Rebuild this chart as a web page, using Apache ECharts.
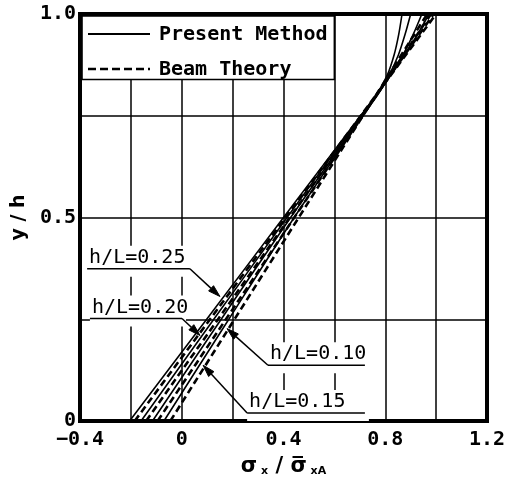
<!DOCTYPE html>
<html>
<head>
<meta charset="utf-8">
<script src="https://cdn.jsdelivr.net/npm/echarts@6/dist/echarts.min.js"></script>
<style>
  html, body { margin: 0; padding: 0; background: #fff; }
  #chart { width: 511px; height: 482px; }
</style>
</head>
<body>
<div id="chart"></div>
<script>
// ---- data ---------------------------------------------------------------
// y/h levels at which the present-method stress profiles are sampled
const yPresent = [0, 0.25, 0.5, 0.75, 0.8, 0.85, 0.9, 0.95, 1.0];
// sigma_x / mean sigma_xA, present method, one list per depth ratio
const present025 = [-0.205, 0.098, 0.400, 0.703, 0.764, 0.808, 0.835, 0.853, 0.866];
const present020 = [-0.160, 0.126, 0.414, 0.705, 0.765, 0.815, 0.852, 0.878, 0.900];
const present015 = [-0.115, 0.155, 0.428, 0.709, 0.767, 0.820, 0.870, 0.910, 0.944];
const present010 = [-0.070, 0.185, 0.442, 0.712, 0.769, 0.820, 0.875, 0.927, 0.972];
// beam theory: linear profiles, values at y/h = 0 and y/h = 1
const yBeam = [0, 1];
const beam025 = [-0.185, 1.000];
const beam020 = [-0.140, 0.990];
const beam015 = [-0.095, 0.980];
const beam010 = [-0.045, 0.965];
// tick labels
const xTickValues = [-0.4, 0, 0.4, 0.8, 1.2];
const xTickLabels = ['\u22120.4', '0', '0.4', '0.8', '1.2'];
const yTickValues = [0, 0.5, 1.0];
const yTickLabels = ['0', '0.5', '1.0'];
// legend and callout texts
const legendNames = ['Present Method', 'Beam Theory'];
const ratioNames = ['h/L=0.25', 'h/L=0.20', 'h/L=0.10', 'h/L=0.15'];

// ---- layout ---------------------------------------------------------------
// callouts in axis units: underline start, underline end, arrow tip, side the leader leaves from
const callouts = [
  { text: ratioNames[0], from: [-0.372, 0.374], to: [0.032, 0.374], tip: [0.150, 0.306], leaderAt: 'end' },
  { text: ratioNames[1], from: [-0.361, 0.252], to: [0.001, 0.252], tip: [0.072, 0.210], leaderAt: 'end' },
  { text: ratioNames[2], from: [0.339, 0.137], to: [0.720, 0.137], tip: [0.178, 0.227], leaderAt: 'start' },
  { text: ratioNames[3], from: [0.257, 0.0196], to: [0.720, 0.0196], tip: [0.084, 0.137], leaderAt: 'start' }
];
// legend frame corners in axis units
const legendCorner = [[-0.4, 1.0], [0.6, 0.839]];

const MONO = '"DejaVu Sans Mono", "Liberation Mono", monospace';
const SANS = '"DejaVu Sans", "Liberation Sans", sans-serif';
const INK = '#000';

const solidLine = { color: INK, width: 1.6, type: 'solid' };
const dashLine = { color: INK, width: 2.6, type: [7, 4] };

function profile(name, xs, ys, lineStyle, smooth) {
  return {
    name: name,
    type: 'line',
    data: xs.map((v, i) => [v, ys[i]]),
    symbol: 'none',
    showSymbol: false,
    smooth: smooth,
    lineStyle: lineStyle,
    silent: true,
    z: 3
  };
}

function tickText(values, labels) {
  return function (v) {
    for (let i = 0; i < values.length; i++) {
      if (Math.abs(values[i] - v) < 1e-6) return labels[i];
    }
    return '';
  };
}

const option = {
  animation: false,
  backgroundColor: '#fff',
  grid: {
    left: 80, right: 24, top: 14, bottom: 59,
    show: true, borderColor: INK, borderWidth: 4, backgroundColor: 'transparent'
  },
  xAxis: {
    type: 'value', min: -0.4, max: 1.2, interval: 0.2,
    axisLine: { show: false },
    axisTick: { show: false },
    splitLine: { show: true, lineStyle: { color: INK, width: 1.5 } },
    axisLabel: {
      formatter: tickText(xTickValues, xTickLabels),
      color: INK, fontFamily: MONO, fontWeight: 'bold', fontSize: 20, margin: 9
    },
    name: '{s|\u03c3}{sub| x}{s| / }{s|\u03c3\u0305}{sub| xA}',
    nameLocation: 'middle',
    nameGap: 32,
    nameTextStyle: {
      color: INK,
      rich: {
        s: { fontFamily: SANS, fontWeight: 'bold', fontSize: 21, color: INK, verticalAlign: 'bottom', lineHeight: 24 },
        sub: { fontFamily: SANS, fontWeight: 'bold', fontSize: 11, color: INK, verticalAlign: 'bottom', lineHeight: 24 }
      }
    }
  },
  yAxis: {
    type: 'value', min: 0, max: 1, interval: 0.25,
    axisLine: { show: false },
    axisTick: { show: false },
    splitLine: { show: true, lineStyle: { color: INK, width: 1.5 } },
    axisLabel: {
      formatter: tickText(yTickValues, yTickLabels),
      color: INK, fontFamily: MONO, fontWeight: 'bold', fontSize: 20, margin: 4
    },
    name: 'y / h',
    nameLocation: 'middle',
    nameGap: 43,
    nameTextStyle: { color: INK, fontFamily: SANS, fontWeight: 'bold', fontSize: 19 }
  },
  series: [
    profile(legendNames[0], present025, yPresent, solidLine, 0.25),
    profile(legendNames[0], present020, yPresent, solidLine, 0.25),
    profile(legendNames[0], present015, yPresent, solidLine, 0.25),
    profile(legendNames[0], present010, yPresent, solidLine, 0.25),
    profile(legendNames[1], beam025, yBeam, dashLine, false),
    profile(legendNames[1], beam020, yBeam, dashLine, false),
    profile(legendNames[1], beam015, yBeam, dashLine, false),
    profile(legendNames[1], beam010, yBeam, dashLine, false)
  ]
};

const chart = echarts.init(document.getElementById('chart'), null, { renderer: 'canvas' });
chart.setOption(option);

// ---- legend frame and callouts, placed from axis units --------------------
const toPx = p => chart.convertToPixel({ gridIndex: 0 }, p);
const shapes = [];

// legend
const lt = toPx(legendCorner[0]);
const rb = toPx(legendCorner[1]);
shapes.push({
  type: 'rect', z: 50,
  shape: { x: lt[0] + 2, y: lt[1] + 2, width: rb[0] - lt[0] - 2, height: rb[1] - lt[1] - 2 },
  style: { fill: '#fff', stroke: INK, lineWidth: 1.6 }
});
const rowY = [lt[1] + 20, lt[1] + 55];
const sampleX = [lt[0] + 8, lt[0] + 70];
shapes.push({
  type: 'line', z: 51,
  shape: { x1: sampleX[0], y1: rowY[0], x2: sampleX[1], y2: rowY[0] },
  style: { stroke: INK, lineWidth: 2 }
});
shapes.push({
  type: 'line', z: 51,
  shape: { x1: sampleX[0], y1: rowY[1], x2: sampleX[1], y2: rowY[1] },
  style: { stroke: INK, lineWidth: 2.4, lineDash: [8, 4] }
});
legendNames.forEach((t, i) => {
  shapes.push({
    type: 'text', z: 51,
    style: {
      x: lt[0] + 79, y: rowY[i] + 1, text: t,
      fill: INK, font: 'bold 20px ' + MONO, verticalAlign: 'middle', align: 'left'
    }
  });
});

// callouts: white backing, text, underline, leader and arrow head
callouts.forEach(c => {
  const a = toPx(c.from);
  const b = toPx(c.to);
  const tip = toPx(c.tip);
  const left = Math.min(a[0], b[0]);
  const w = Math.abs(b[0] - a[0]);
  shapes.push({
    type: 'rect', z: 40,
    shape: { x: left, y: a[1] - 23, width: w + 4, height: 31 },
    style: { fill: '#fff', stroke: null }
  });
  shapes.push({
    type: 'text', z: 41,
    style: {
      x: left + 2, y: a[1] - 1, text: c.text,
      fill: INK, font: '20px ' + MONO, verticalAlign: 'bottom', align: 'left'
    }
  });
  shapes.push({
    type: 'line', z: 41,
    shape: { x1: a[0], y1: a[1], x2: b[0], y2: b[1] },
    style: { stroke: INK, lineWidth: 1.5 }
  });
  const s = c.leaderAt === 'end' ? b : a;
  const dx = tip[0] - s[0], dy = tip[1] - s[1];
  const len = Math.sqrt(dx * dx + dy * dy);
  const ux = dx / len, uy = dy / len;
  const headL = 12, headW = 3.6;
  const bx = tip[0] - ux * headL, by = tip[1] - uy * headL;
  shapes.push({
    type: 'line', z: 41,
    shape: { x1: s[0], y1: s[1], x2: bx, y2: by },
    style: { stroke: INK, lineWidth: 1.5 }
  });
  shapes.push({
    type: 'polygon', z: 41,
    shape: { points: [tip, [bx - uy * headW, by + ux * headW], [bx + uy * headW, by - ux * headW]] },
    style: { fill: INK, stroke: INK, lineWidth: 1 }
  });
});

chart.setOption({ graphic: { elements: shapes } });
</script>
</body>
</html>
